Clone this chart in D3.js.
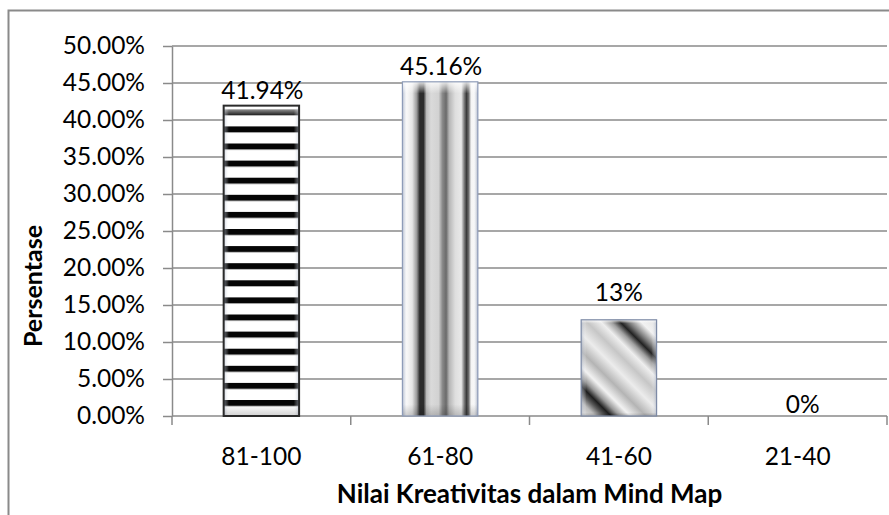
<!DOCTYPE html>
<html>
<head>
<meta charset="utf-8">
<script src="https://cdn.jsdelivr.net/npm/d3@7"></script>
<style>
  html, body { margin: 0; padding: 0; background: #fff; }
  svg { display: block; }
  text { font-family: Lato, "Open Sans", sans-serif; fill: #000; }
</style>
</head>
<body>
<svg id="chart" width="889" height="515"></svg>
<script>
// Creativity score groups and the share of students in each
const categories = ["81-100", "61-80", "41-60", "21-40"];
const percentages = [41.94, 45.16, 13, 0];
const valueLabels = ["41.94%", "45.16%", "13%", "0%"];
const yTickValues = [0, 5, 10, 15, 20, 25, 30, 35, 40, 45, 50];
const yTitle = "Persentase";
const xTitle = "Nilai Kreativitas dalam Mind Map";

// how far each value label sits above its bar top, and its sideways nudge
const labelLift = [7, 7, 19, 3];
const labelShift = [1, 1, 0, 5];

const svg = d3.select("#chart");
const plot = { left: 172, right: 887, top: 46, bottom: 416 };

const x = d3.scaleBand()
  .domain(categories)
  .range([plot.left, plot.right])
  .paddingInner(0.578)
  .paddingOuter(0.289);

const y = d3.scaleLinear()
  .domain([0, 50])
  .range([plot.bottom, plot.top]);

const gridColor = "#8a8a8a";
const defs = svg.append("defs");

// outer frame (runs off the right and bottom edges)
svg.append("rect")
  .attr("x", 8.5).attr("y", 10.5)
  .attr("width", 920).attr("height", 620)
  .attr("fill", "#fff")
  .attr("stroke", gridColor).attr("stroke-width", 2);

// horizontal gridlines
svg.append("g").selectAll("line")
  .data(yTickValues.filter(v => v > 0))
  .join("line")
  .attr("x1", plot.left).attr("x2", plot.right)
  .attr("y1", d => y(d)).attr("y2", d => y(d))
  .attr("stroke", gridColor).attr("stroke-width", 1.5);

// y axis
const yAxis = svg.append("g")
  .attr("transform", `translate(${plot.left},0)`)
  .call(d3.axisLeft(y)
    .tickValues(yTickValues)
    .tickFormat(d => d.toFixed(2) + "%")
    .tickSize(9)
    .tickSizeOuter(0)
    .tickPadding(18));
yAxis.select(".domain").attr("stroke", gridColor).attr("stroke-width", 1.5);
yAxis.selectAll(".tick line").attr("stroke", gridColor).attr("stroke-width", 1.5);
yAxis.selectAll(".tick text")
  .attr("font-family", "Lato, sans-serif")
  .attr("font-size", 24.5)
  .attr("fill", "#000");

// x axis: labels centred in bands, ticks on band boundaries
const xAxis = svg.append("g")
  .attr("transform", `translate(0,${plot.bottom})`)
  .call(d3.axisBottom(x).tickSize(0).tickSizeOuter(0).tickPadding(32));
xAxis.select(".domain").remove();
xAxis.selectAll(".tick text")
  .attr("font-family", "Lato, sans-serif")
  .attr("font-size", 24.5)
  .attr("fill", "#000");

const step = x.step();
const boundaries = d3.range(categories.length + 1).map(i => plot.left + i * step);
svg.append("line")
  .attr("x1", plot.left).attr("x2", plot.right)
  .attr("y1", plot.bottom).attr("y2", plot.bottom)
  .attr("stroke", gridColor).attr("stroke-width", 1.5);
svg.append("g").selectAll("line")
  .data(boundaries)
  .join("line")
  .attr("x1", d => d).attr("x2", d => d)
  .attr("y1", plot.bottom).attr("y2", plot.bottom + 9)
  .attr("stroke", gridColor).attr("stroke-width", 1.5);

// ---- bar fills ----
const bw = x.bandwidth();

// 1: black horizontal stripes on white
const stripeP = 17.1;
const stripes = defs.append("pattern")
  .attr("id", "stripes")
  .attr("patternUnits", "userSpaceOnUse")
  .attr("x", 0).attr("y", y(0) - 16)
  .attr("width", 10).attr("height", stripeP);
stripes.append("rect").attr("width", 10).attr("height", stripeP).attr("fill", "#fff");
stripes.append("rect").attr("y", 0).attr("width", 10).attr("height", 6).attr("fill", "#050505");

// 2: vertical chrome bands
const chromeV = defs.append("linearGradient")
  .attr("id", "chromeV").attr("x1", 0).attr("x2", 1).attr("y1", 0).attr("y2", 0);
[[0, "#d8dde6"], [0.05, "#fafafa"], [0.13, "#e6e6e6"], [0.19, "#9a9a9a"],
 [0.23, "#2c2c2c"], [0.28, "#2c2c2c"], [0.32, "#bdbdbd"], [0.38, "#dadada"],
 [0.48, "#d2d2d2"], [0.53, "#8a8a8a"], [0.58, "#6a6a6a"], [0.62, "#b5b5b5"],
 [0.70, "#dedede"], [0.78, "#e8e8e8"], [0.82, "#7a7a7a"], [0.85, "#3a3a3a"],
 [0.88, "#6f6f6f"], [0.91, "#f4f4f4"], [0.96, "#fafafa"], [1, "#d0d5de"]]
  .forEach(([o, c]) => chromeV.append("stop").attr("offset", o).attr("stop-color", c));

// 3: diagonal chrome bands, placed on the bar's own box
function diagGradient(i) {
  const x0 = x(categories[i]), y0 = y(percentages[i]), h = y(0) - y0;
  const cx = x0 + bw / 2, cy = y0 + h / 2;
  const r = (bw + h) / 2 * 0.72;
  const g = defs.append("linearGradient")
    .attr("id", "chromeD")
    .attr("gradientUnits", "userSpaceOnUse")
    .attr("x1", cx - r * 0.707).attr("y1", cy + r * 0.707)
    .attr("x2", cx + r * 0.707).attr("y2", cy - r * 0.707);
  [[0, "#ececec"], [0.09, "#bdbdbd"], [0.14, "#5a5a5a"], [0.18, "#1e1e1e"],
   [0.23, "#9a9a9a"], [0.29, "#f2f2f2"], [0.38, "#b4b4b4"], [0.48, "#ececec"],
   [0.58, "#c6c6c6"], [0.66, "#eeeeee"], [0.72, "#a0a0a0"], [0.77, "#222222"],
   [0.82, "#808080"], [0.89, "#f2f2f2"], [1, "#e0e0e0"]]
    .forEach(([o, c]) => g.append("stop").attr("offset", o).attr("stop-color", c));
}
diagGradient(2);

// soft bevel edges laid over each bar
const sideShade = defs.append("linearGradient")
  .attr("id", "sideShade").attr("x1", 0).attr("x2", 1).attr("y1", 0).attr("y2", 0);
[[0, "#9aa6bd", 0.55], [0.07, "#ffffff", 0], [0.93, "#ffffff", 0], [1, "#9aa6bd", 0.55]]
  .forEach(([o, c, a]) => sideShade.append("stop").attr("offset", o)
    .attr("stop-color", c).attr("stop-opacity", a));
const topShade = defs.append("linearGradient")
  .attr("id", "topShade").attr("x1", 0).attr("x2", 0).attr("y1", 0).attr("y2", 1);
[[0, "#ffffff", 0.85], [0.035, "#ffffff", 0], [0.965, "#000000", 0], [1, "#000000", 0.18]]
  .forEach(([o, c, a]) => topShade.append("stop").attr("offset", o)
    .attr("stop-color", c).attr("stop-opacity", a));

const fills = ["url(#stripes)", "url(#chromeV)", "url(#chromeD)", "#cccccc"];
const strokes = ["#2a2a2a", "#8e9cb8", "#7d8aa6", "#8e9cb8"];

const rows = categories.map((c, i) => ({ c, v: percentages[i], i }));

const bars = svg.append("g").selectAll("g")
  .data(rows.filter(d => d.v > 0))
  .join("g");

["fill", "url(#sideShade)", "url(#topShade)"].forEach(layer => {
  bars.append("rect")
    .attr("x", d => x(d.c)).attr("y", d => y(d.v))
    .attr("width", bw).attr("height", d => y(0) - y(d.v))
    .attr("fill", d => layer === "fill" ? fills[d.i] : layer);
});
bars.append("rect")
  .attr("x", d => x(d.c)).attr("y", d => y(d.v))
  .attr("width", bw).attr("height", d => y(0) - y(d.v))
  .attr("fill", "none")
  .attr("stroke", d => strokes[d.i])
  .attr("stroke-width", d => d.i === 0 ? 2 : 1.2);

// value labels
svg.append("g").selectAll("text")
  .data(rows)
  .join("text")
  .attr("x", d => x(d.c) + bw / 2 + labelShift[d.i])
  .attr("y", d => y(d.v) - labelLift[d.i])
  .attr("text-anchor", "middle")
  .attr("font-size", 24.5)
  .text(d => valueLabels[d.i]);

// axis titles
svg.append("text")
  .attr("transform", "translate(42,286) rotate(-90)")
  .attr("text-anchor", "middle")
  .attr("font-size", 25)
  .attr("font-weight", "bold")
  .text(yTitle);

svg.append("text")
  .attr("x", (plot.left + plot.right) / 2)
  .attr("y", 503)
  .attr("text-anchor", "middle")
  .attr("font-size", 26)
  .attr("font-weight", "bold")
  .text(xTitle);
</script>
</body>
</html>
